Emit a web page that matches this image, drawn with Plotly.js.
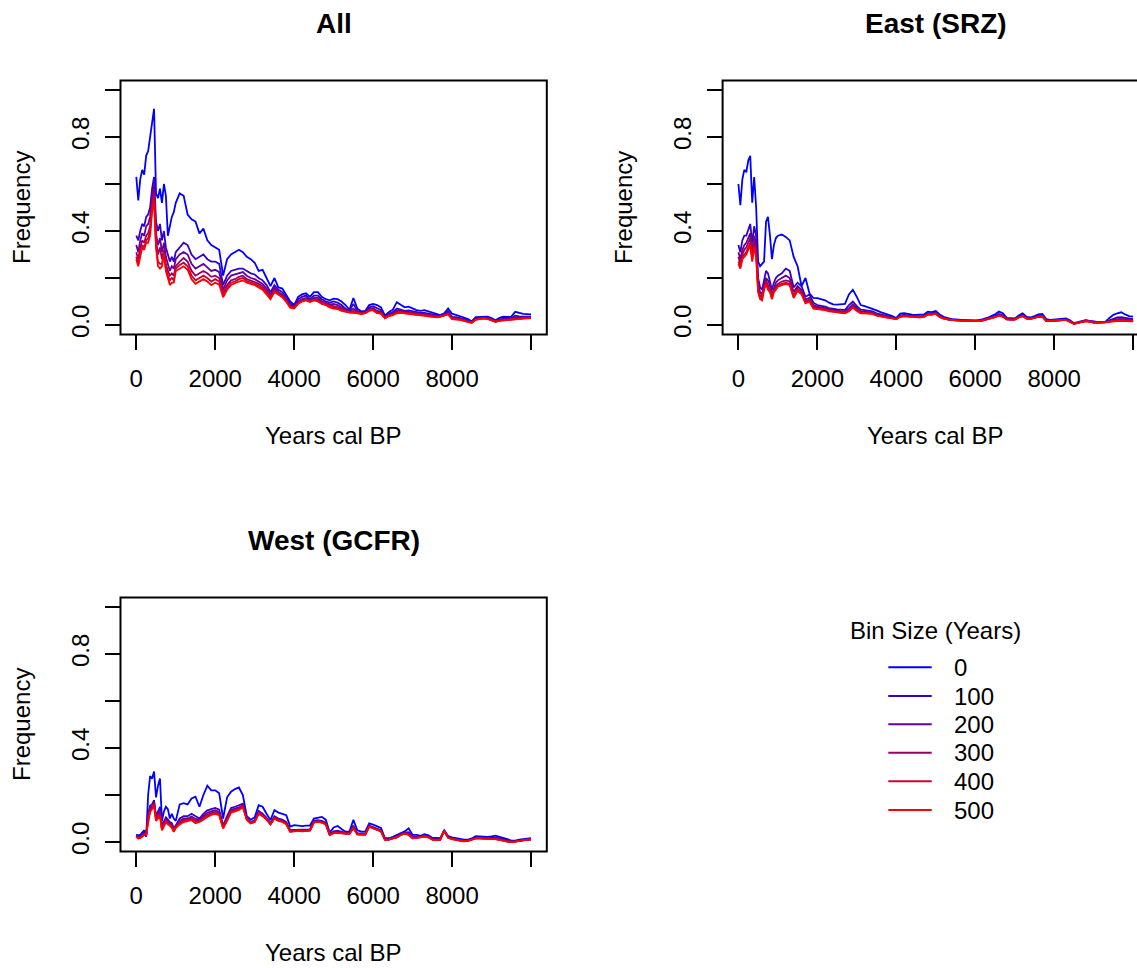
<!DOCTYPE html>
<html>
<head>
<meta charset="utf-8">
<script src="https://cdn.plot.ly/plotly-3.0.1.min.js"></script>
<style>
html,body{margin:0;padding:0;background:#fff;}
#chart{width:1137px;height:968px;}
</style>
</head>
<body>
<div id="chart"></div>
<script>
// ---------------- DATA ----------------
const years = [0,50,100,150,200,250,300,350,400,450,500,550,600,650,700,750,800,850,900,950,1000,
1100,1200,1300,1400,1500,1600,1700,1800,1900,2000,
2100,2200,2300,2400,2500,2600,2700,2800,2900,3000,
3100,3200,3300,3400,3500,3600,3700,3800,3900,4000,
4100,4200,4300,4400,4500,4600,4700,4800,4900,5000,
5100,5200,5300,5400,5500,5600,5700,5800,5900,6000,
6100,6200,6300,6400,6500,6600,6700,6800,6900,7000,
7100,7200,7300,7400,7500,7600,7700,7800,7900,8000,
8100,8200,8300,8400,8500,8600,8700,8800,8900,9000,
9100,9200,9300,9400,9500,9600,9700,9800,9900,10000];

const bins = [0, 100, 200, 300, 400, 500];
const panelTitles = ["All", "East (SRZ)", "West (GCFR)"];
const xTickVals = [0, 2000, 4000, 6000, 8000, 10000];
const xTickText = ["0", "2000", "4000", "6000", "8000", ""];
const yTickVals = [0, 0.2, 0.4, 0.6, 0.8, 1.0];
const yTickText = ["0.0", "", "0.4", "", "0.8", ""];
const xLabel = "Years cal BP";
const yLabel = "Frequency";
const legendTitle = "Bin Size (Years)";

// ---- All ----
const all_0 = [0.63,0.53,0.62,0.66,0.64,0.72,0.74,0.80,0.85,0.92,0.56,0.54,0.58,0.52,0.60,0.55,0.38,0.42,0.46,0.48,0.52,
0.56,0.55,0.47,0.45,0.44,0.39,0.41,0.36,0.34,0.33,
0.32,0.21,0.28,0.30,0.31,0.32,0.31,0.29,0.28,0.265,
0.23,0.235,0.20,0.165,0.20,0.16,0.155,0.13,0.10,0.085,
0.12,0.13,0.135,0.12,0.14,0.14,0.12,0.11,0.105,0.112,
0.11,0.10,0.085,0.065,0.115,0.07,0.058,0.06,0.085,0.09,
0.085,0.075,0.04,0.055,0.065,0.097,0.085,0.075,0.078,0.07,
0.063,0.06,0.063,0.058,0.052,0.048,0.042,0.05,0.07,0.048,
0.043,0.04,0.032,0.025,0.016,0.033,0.035,0.035,0.036,0.03,
0.02,0.03,0.035,0.034,0.036,0.056,0.05,0.047,0.046,0.045];
const all_100 = [0.38,0.36,0.40,0.43,0.42,0.46,0.47,0.50,0.58,0.63,0.44,0.40,0.43,0.36,0.40,0.33,0.30,0.27,0.29,0.27,0.31,
0.33,0.35,0.34,0.30,0.28,0.29,0.30,0.28,0.27,0.27,
0.26,0.17,0.21,0.23,0.235,0.24,0.24,0.23,0.22,0.215,
0.20,0.19,0.17,0.14,0.17,0.15,0.14,0.12,0.09,0.08,
0.11,0.12,0.125,0.11,0.125,0.125,0.11,0.10,0.095,0.10,
0.095,0.085,0.07,0.06,0.09,0.06,0.052,0.055,0.075,0.08,
0.07,0.063,0.035,0.048,0.055,0.07,0.065,0.06,0.062,0.058,
0.053,0.052,0.052,0.048,0.045,0.042,0.04,0.046,0.058,0.035,
0.033,0.03,0.026,0.02,0.013,0.028,0.03,0.031,0.03,0.025,
0.017,0.024,0.028,0.029,0.03,0.04,0.037,0.036,0.036,0.035];
const all_200 = [0.34,0.31,0.36,0.39,0.38,0.42,0.43,0.46,0.55,0.60,0.39,0.34,0.37,0.31,0.35,0.29,0.26,0.23,0.25,0.24,0.28,
0.30,0.31,0.30,0.26,0.24,0.25,0.26,0.245,0.23,0.235,
0.225,0.15,0.19,0.21,0.215,0.22,0.225,0.21,0.20,0.195,
0.185,0.175,0.155,0.13,0.16,0.14,0.13,0.11,0.085,0.078,
0.10,0.11,0.115,0.105,0.115,0.115,0.10,0.095,0.088,0.09,
0.085,0.075,0.065,0.058,0.07,0.056,0.05,0.053,0.068,0.072,
0.06,0.056,0.032,0.044,0.05,0.062,0.06,0.056,0.056,0.052,
0.048,0.047,0.047,0.043,0.04,0.038,0.038,0.043,0.052,0.031,
0.03,0.027,0.023,0.017,0.012,0.025,0.028,0.03,0.028,0.023,
0.016,0.021,0.024,0.026,0.027,0.032,0.031,0.031,0.032,0.032];
const all_300 = [0.31,0.28,0.33,0.36,0.35,0.38,0.39,0.42,0.52,0.57,0.36,0.30,0.33,0.28,0.32,0.26,0.23,0.21,0.22,0.21,0.25,
0.27,0.285,0.27,0.23,0.21,0.22,0.23,0.22,0.205,0.21,
0.20,0.135,0.17,0.19,0.195,0.205,0.21,0.195,0.19,0.183,
0.175,0.165,0.145,0.12,0.15,0.135,0.125,0.105,0.08,0.074,
0.095,0.105,0.11,0.102,0.11,0.108,0.095,0.09,0.082,0.08,
0.076,0.068,0.06,0.055,0.06,0.053,0.049,0.051,0.064,0.067,
0.055,0.052,0.03,0.041,0.046,0.056,0.056,0.053,0.052,0.049,
0.045,0.045,0.044,0.04,0.038,0.036,0.037,0.042,0.048,0.028,
0.028,0.025,0.021,0.015,0.011,0.024,0.027,0.029,0.027,0.022,
0.015,0.02,0.022,0.024,0.025,0.028,0.028,0.029,0.03,0.03];
const all_400 = [0.29,0.26,0.31,0.34,0.33,0.36,0.37,0.40,0.50,0.55,0.34,0.27,0.26,0.26,0.31,0.24,0.21,0.19,0.20,0.19,0.24,
0.255,0.265,0.25,0.21,0.19,0.20,0.21,0.20,0.185,0.195,
0.185,0.125,0.16,0.18,0.185,0.195,0.20,0.187,0.182,0.176,
0.167,0.157,0.137,0.115,0.145,0.132,0.122,0.102,0.077,0.072,
0.092,0.102,0.107,0.10,0.107,0.104,0.092,0.087,0.078,0.074,
0.071,0.064,0.058,0.054,0.055,0.051,0.048,0.05,0.062,0.065,
0.052,0.05,0.029,0.039,0.044,0.053,0.054,0.051,0.05,0.047,
0.043,0.043,0.042,0.038,0.036,0.034,0.036,0.041,0.046,0.026,
0.026,0.023,0.019,0.013,0.01,0.023,0.027,0.028,0.027,0.021,
0.014,0.019,0.021,0.023,0.024,0.026,0.027,0.028,0.029,0.029];
const all_500 = [0.28,0.25,0.29,0.33,0.32,0.35,0.35,0.38,0.48,0.53,0.33,0.25,0.24,0.25,0.30,0.23,0.20,0.17,0.18,0.18,0.23,
0.24,0.25,0.235,0.195,0.175,0.185,0.195,0.185,0.17,0.18,
0.172,0.118,0.15,0.17,0.178,0.185,0.19,0.18,0.175,0.17,
0.16,0.15,0.13,0.11,0.14,0.128,0.118,0.098,0.074,0.07,
0.09,0.10,0.105,0.098,0.105,0.10,0.09,0.085,0.075,0.07,
0.068,0.06,0.056,0.053,0.052,0.05,0.048,0.05,0.06,0.063,
0.05,0.048,0.028,0.038,0.042,0.05,0.052,0.05,0.048,0.045,
0.042,0.042,0.04,0.036,0.035,0.033,0.035,0.04,0.045,0.025,
0.025,0.022,0.018,0.012,0.01,0.022,0.026,0.028,0.026,0.02,
0.014,0.018,0.02,0.022,0.024,0.025,0.026,0.027,0.028,0.028];

// ---- East (SRZ) ----
const east_0 = [0.60,0.51,0.62,0.66,0.65,0.70,0.72,0.52,0.63,0.50,0.27,0.25,0.26,0.27,0.44,0.46,0.38,0.28,0.34,0.37,0.38,
0.385,0.375,0.36,0.29,0.25,0.165,0.20,0.135,0.115,0.114,
0.11,0.105,0.095,0.088,0.087,0.087,0.09,0.13,0.15,0.12,
0.085,0.08,0.075,0.07,0.062,0.055,0.05,0.043,0.038,0.03,
0.048,0.05,0.046,0.044,0.043,0.043,0.045,0.057,0.055,0.06,
0.045,0.035,0.03,0.025,0.024,0.022,0.021,0.02,0.018,0.018,
0.02,0.025,0.03,0.036,0.045,0.057,0.05,0.03,0.028,0.028,
0.04,0.05,0.035,0.032,0.038,0.045,0.047,0.025,0.022,0.024,
0.025,0.027,0.028,0.02,0.008,0.012,0.018,0.021,0.018,0.014,
0.013,0.013,0.014,0.03,0.043,0.05,0.054,0.045,0.038,0.036];
const east_100 = [0.34,0.31,0.36,0.38,0.38,0.41,0.43,0.35,0.42,0.38,0.20,0.16,0.15,0.19,0.23,0.22,0.19,0.15,0.18,0.20,0.21,
0.22,0.24,0.23,0.16,0.18,0.165,0.12,0.13,0.095,0.085,
0.082,0.078,0.072,0.068,0.066,0.065,0.064,0.085,0.10,0.08,
0.065,0.063,0.06,0.058,0.05,0.045,0.041,0.036,0.033,0.028,
0.04,0.043,0.04,0.038,0.037,0.037,0.039,0.05,0.049,0.053,
0.038,0.03,0.026,0.023,0.022,0.02,0.019,0.018,0.017,0.017,
0.018,0.022,0.026,0.031,0.038,0.047,0.041,0.026,0.024,0.025,
0.035,0.043,0.03,0.028,0.033,0.04,0.04,0.02,0.019,0.02,
0.022,0.024,0.024,0.016,0.006,0.01,0.015,0.019,0.016,0.012,
0.011,0.011,0.012,0.02,0.027,0.032,0.033,0.03,0.026,0.025];
const east_200 = [0.31,0.28,0.32,0.34,0.35,0.37,0.39,0.31,0.38,0.34,0.17,0.14,0.13,0.17,0.20,0.19,0.17,0.13,0.16,0.18,0.19,
0.20,0.21,0.20,0.14,0.165,0.15,0.108,0.115,0.085,0.078,
0.075,0.071,0.066,0.062,0.061,0.059,0.058,0.072,0.088,0.072,
0.058,0.057,0.054,0.052,0.045,0.041,0.038,0.033,0.031,0.027,
0.038,0.041,0.038,0.036,0.035,0.035,0.037,0.048,0.047,0.051,
0.036,0.029,0.025,0.022,0.021,0.02,0.019,0.018,0.017,0.017,
0.018,0.021,0.025,0.03,0.036,0.044,0.038,0.025,0.023,0.024,
0.034,0.041,0.029,0.027,0.032,0.038,0.038,0.019,0.018,0.019,
0.021,0.023,0.023,0.015,0.006,0.01,0.015,0.018,0.015,0.011,
0.011,0.011,0.012,0.017,0.022,0.025,0.026,0.024,0.022,0.021];
const east_300 = [0.29,0.26,0.30,0.32,0.33,0.35,0.37,0.29,0.36,0.32,0.155,0.125,0.12,0.16,0.19,0.17,0.155,0.12,0.15,0.165,0.175,
0.185,0.19,0.185,0.125,0.155,0.14,0.10,0.108,0.078,0.073,
0.07,0.067,0.062,0.059,0.058,0.055,0.054,0.065,0.08,0.066,
0.054,0.053,0.051,0.049,0.042,0.038,0.036,0.031,0.029,0.026,
0.036,0.039,0.037,0.035,0.034,0.034,0.036,0.046,0.045,0.049,
0.035,0.028,0.024,0.021,0.02,0.019,0.018,0.017,0.016,0.016,
0.017,0.02,0.024,0.029,0.034,0.042,0.036,0.024,0.022,0.023,
0.033,0.039,0.028,0.026,0.031,0.036,0.037,0.018,0.017,0.018,
0.02,0.022,0.022,0.014,0.005,0.009,0.014,0.017,0.014,0.01,
0.01,0.01,0.011,0.015,0.019,0.021,0.021,0.02,0.019,0.018];
const east_400 = [0.27,0.25,0.29,0.30,0.31,0.33,0.35,0.28,0.34,0.30,0.145,0.115,0.11,0.155,0.18,0.16,0.145,0.115,0.145,0.155,0.168,
0.175,0.18,0.175,0.12,0.15,0.135,0.095,0.103,0.073,0.07,
0.068,0.065,0.06,0.057,0.056,0.053,0.052,0.06,0.076,0.062,
0.052,0.051,0.049,0.048,0.041,0.037,0.035,0.03,0.028,0.025,
0.035,0.038,0.036,0.034,0.033,0.033,0.035,0.045,0.044,0.048,
0.034,0.027,0.024,0.021,0.02,0.019,0.018,0.017,0.016,0.016,
0.017,0.02,0.024,0.028,0.033,0.041,0.035,0.024,0.022,0.023,
0.032,0.038,0.027,0.026,0.03,0.035,0.036,0.018,0.017,0.018,
0.02,0.022,0.022,0.014,0.005,0.009,0.014,0.017,0.014,0.01,
0.01,0.01,0.011,0.014,0.017,0.019,0.019,0.018,0.017,0.017];
const east_500 = [0.26,0.24,0.28,0.29,0.30,0.32,0.34,0.27,0.33,0.29,0.14,0.11,0.105,0.15,0.175,0.15,0.14,0.11,0.14,0.15,0.163,
0.17,0.175,0.17,0.115,0.145,0.13,0.092,0.10,0.07,0.068,
0.066,0.063,0.058,0.056,0.055,0.052,0.05,0.058,0.074,0.06,
0.05,0.05,0.048,0.047,0.04,0.036,0.034,0.03,0.028,0.025,
0.035,0.038,0.036,0.034,0.033,0.033,0.035,0.045,0.044,0.048,
0.034,0.027,0.024,0.021,0.02,0.019,0.018,0.017,0.016,0.016,
0.017,0.02,0.024,0.028,0.033,0.04,0.035,0.024,0.022,0.023,
0.032,0.038,0.027,0.026,0.03,0.035,0.036,0.018,0.017,0.018,
0.02,0.022,0.022,0.014,0.005,0.009,0.014,0.017,0.014,0.01,
0.01,0.01,0.011,0.013,0.016,0.018,0.018,0.017,0.016,0.016];

// ---- West (GCFR) ----
const west_0 = [0.032,0.028,0.03,0.04,0.05,0.022,0.20,0.28,0.27,0.30,0.19,0.24,0.27,0.09,0.13,0.15,0.14,0.10,0.12,0.10,0.09,
0.16,0.165,0.16,0.185,0.193,0.15,0.20,0.24,0.22,0.22,
0.207,0.10,0.19,0.214,0.225,0.232,0.20,0.11,0.095,0.105,
0.157,0.15,0.12,0.093,0.136,0.125,0.12,0.114,0.066,0.072,
0.07,0.068,0.07,0.07,0.10,0.105,0.107,0.095,0.04,0.062,
0.068,0.055,0.044,0.044,0.094,0.05,0.044,0.044,0.079,0.074,
0.068,0.06,0.016,0.016,0.022,0.029,0.036,0.045,0.058,0.03,
0.03,0.026,0.033,0.028,0.018,0.016,0.016,0.05,0.025,0.02,
0.016,0.012,0.01,0.01,0.015,0.025,0.024,0.022,0.022,0.024,
0.027,0.022,0.018,0.012,0.006,0.006,0.01,0.012,0.015,0.016];
const west_100 = [0.03,0.022,0.022,0.032,0.04,0.026,0.12,0.155,0.16,0.178,0.11,0.13,0.15,0.07,0.09,0.105,0.095,0.085,0.08,0.06,0.07,
0.10,0.11,0.11,0.12,0.11,0.10,0.12,0.135,0.14,0.145,
0.138,0.07,0.11,0.145,0.15,0.155,0.163,0.10,0.085,0.092,
0.132,0.12,0.103,0.08,0.11,0.10,0.095,0.085,0.05,0.052,
0.053,0.052,0.052,0.054,0.09,0.093,0.09,0.082,0.034,0.045,
0.048,0.042,0.039,0.039,0.07,0.038,0.036,0.036,0.07,0.064,
0.056,0.05,0.012,0.012,0.018,0.024,0.033,0.04,0.042,0.022,
0.023,0.022,0.028,0.023,0.013,0.011,0.012,0.048,0.021,0.015,
0.011,0.008,0.006,0.007,0.012,0.019,0.019,0.017,0.016,0.017,
0.018,0.015,0.011,0.006,0.003,0.004,0.007,0.01,0.012,0.013];
const west_200 = [0.027,0.02,0.02,0.03,0.036,0.028,0.11,0.145,0.152,0.17,0.10,0.12,0.135,0.062,0.082,0.097,0.087,0.08,0.072,0.054,0.066,
0.09,0.10,0.10,0.108,0.098,0.095,0.11,0.124,0.13,0.135,
0.128,0.066,0.102,0.137,0.142,0.147,0.157,0.098,0.083,0.089,
0.127,0.116,0.10,0.078,0.106,0.096,0.091,0.081,0.047,0.049,
0.05,0.049,0.049,0.051,0.087,0.09,0.087,0.079,0.032,0.042,
0.044,0.04,0.037,0.037,0.065,0.035,0.034,0.034,0.068,0.061,
0.053,0.048,0.011,0.011,0.017,0.022,0.032,0.038,0.037,0.019,
0.021,0.021,0.026,0.022,0.012,0.01,0.011,0.048,0.02,0.014,
0.01,0.007,0.005,0.006,0.011,0.017,0.017,0.015,0.014,0.015,
0.015,0.012,0.008,0.004,0.002,0.003,0.006,0.009,0.011,0.012];
const west_300 = [0.025,0.018,0.018,0.028,0.033,0.029,0.10,0.138,0.147,0.165,0.096,0.11,0.122,0.057,0.077,0.092,0.082,0.076,0.066,0.049,0.063,
0.083,0.094,0.095,0.10,0.09,0.09,0.103,0.116,0.123,0.128,
0.121,0.062,0.096,0.131,0.136,0.142,0.153,0.097,0.081,0.087,
0.124,0.113,0.098,0.077,0.103,0.093,0.088,0.078,0.045,0.047,
0.048,0.047,0.047,0.05,0.085,0.088,0.084,0.077,0.031,0.04,
0.041,0.038,0.036,0.036,0.062,0.033,0.032,0.032,0.066,0.06,
0.051,0.046,0.01,0.01,0.016,0.021,0.031,0.037,0.033,0.017,
0.019,0.02,0.025,0.021,0.011,0.009,0.01,0.047,0.019,0.013,
0.009,0.006,0.004,0.005,0.01,0.016,0.016,0.014,0.013,0.013,
0.013,0.011,0.007,0.003,0.001,0.002,0.005,0.008,0.01,0.011];
const west_400 = [0.023,0.016,0.017,0.026,0.031,0.03,0.095,0.132,0.143,0.16,0.093,0.105,0.115,0.053,0.073,0.088,0.078,0.073,0.063,0.046,0.061,
0.079,0.089,0.091,0.096,0.085,0.087,0.099,0.111,0.119,0.124,
0.117,0.06,0.093,0.128,0.133,0.139,0.15,0.096,0.08,0.086,
0.122,0.111,0.096,0.076,0.101,0.091,0.087,0.076,0.044,0.046,
0.047,0.046,0.046,0.049,0.084,0.087,0.083,0.076,0.03,0.039,
0.039,0.037,0.035,0.035,0.06,0.032,0.031,0.031,0.065,0.059,
0.05,0.045,0.009,0.01,0.015,0.02,0.03,0.036,0.031,0.016,
0.018,0.02,0.024,0.02,0.01,0.008,0.01,0.047,0.018,0.012,
0.008,0.005,0.003,0.005,0.01,0.015,0.015,0.013,0.012,0.012,
0.012,0.01,0.006,0.002,0.0,0.002,0.005,0.008,0.01,0.01];
const west_500 = [0.022,0.015,0.016,0.025,0.03,0.03,0.09,0.128,0.14,0.157,0.09,0.10,0.11,0.05,0.07,0.085,0.075,0.07,0.06,0.043,0.06,
0.075,0.085,0.088,0.093,0.08,0.085,0.095,0.107,0.115,0.12,
0.114,0.058,0.09,0.125,0.13,0.136,0.148,0.095,0.079,0.085,
0.12,0.11,0.095,0.075,0.10,0.09,0.086,0.075,0.043,0.045,
0.047,0.045,0.045,0.048,0.083,0.086,0.082,0.075,0.03,0.038,
0.038,0.036,0.035,0.035,0.058,0.032,0.031,0.031,0.065,0.058,
0.05,0.045,0.009,0.01,0.015,0.02,0.03,0.036,0.03,0.016,
0.018,0.02,0.024,0.02,0.01,0.008,0.01,0.047,0.018,0.012,
0.008,0.005,0.003,0.005,0.01,0.015,0.015,0.013,0.012,0.012,
0.012,0.01,0.006,0.002,0.0,0.002,0.005,0.008,0.01,0.01];

// ---------------- STYLE / LAYOUT ----------------
const lineColors = ['#0000FF','#3300CC','#660099','#990066','#CC0033','#FF0000'];
const W = 1137, H = 968;
const FONT = 'Liberation Sans, Arial, Helvetica, sans-serif';
const fx = px => px / W;
const fy = py => 1 - py / H;

const panelSeries = [
  [all_0, all_100, all_200, all_300, all_400, all_500],
  [east_0, east_100, east_200, east_300, east_400, east_500],
  [west_0, west_100, west_200, west_300, west_400, west_500]
];
// pixel boxes: [left, right(visible), boxRight, top, bottom, xmax]
const boxes = [
  {l:120.5, r:546.8, br:546.8, t:80.6, b:334.4, xr:[-400,10400]},
  {l:722.6, r:1137,  br:1148.9, t:80.6, b:334.4, xr:[-400,10098.6]},
  {l:120.5, r:546.8, br:546.8, t:597.6, b:851.4, xr:[-400,10400]}
];
const axIds = ['', '2', '3'];

const traces = [];
panelSeries.forEach((series, p) => {
  series.forEach((ys, i) => {
    traces.push({
      x: years, y: ys, type: 'scatter', mode: 'lines',
      name: String(bins[i]),
      xaxis: 'x' + axIds[p], yaxis: 'y' + axIds[p],
      line: {color: lineColors[i], width: 1.8},
      showlegend: false, hoverinfo: 'skip'
    });
  });
});

const layout = {
  width: W, height: H,
  margin: {l:0, r:0, t:0, b:0},
  paper_bgcolor: '#fff', plot_bgcolor: '#fff',
  font: {family: FONT, size: 24, color: '#000'},
  showlegend: false,
  shapes: [], annotations: []
};

boxes.forEach((b, p) => {
  const xa = {
    domain: [fx(b.l), fx(b.r)], range: b.xr, anchor: 'y' + axIds[p],
    tickmode: 'array', tickvals: xTickVals, ticktext: xTickText,
    ticks: 'outside', ticklen: 15, tickwidth: 2, tickcolor: '#000',
    showline: false, showgrid: false, zeroline: false,
    tickfont: {family: FONT, size: 24, color: '#000'},
    ticklabelstandoff: 8, fixedrange: true
  };
  const ya = {
    domain: [fy(b.b), fy(b.t)], range: [-0.04, 1.04], anchor: 'x' + axIds[p],
    tickmode: 'array', tickvals: yTickVals, ticktext: yTickText,
    ticks: 'outside', ticklen: 15, tickwidth: 2, tickcolor: '#000',
    tickangle: -90,
    showline: false, showgrid: false, zeroline: false,
    tickfont: {family: FONT, size: 24, color: '#000'},
    ticklabelstandoff: 6, fixedrange: true
  };
  layout['xaxis' + axIds[p]] = xa;
  layout['yaxis' + axIds[p]] = ya;

  layout.shapes.push({
    type: 'rect', xref: 'paper', yref: 'paper',
    x0: fx(b.l), x1: fx(b.br), y0: fy(b.b), y1: fy(b.t),
    line: {color: '#000', width: 2}, fillcolor: 'rgba(0,0,0,0)', layer: 'above'
  });

  const cx = (b.l + b.br) / 2;
  layout.annotations.push({
    text: '<b>' + panelTitles[p] + '</b>', xref: 'paper', yref: 'paper',
    x: fx(cx), y: fy(b.t - 57), xanchor: 'center', yanchor: 'middle',
    showarrow: false, font: {family: FONT, size: 28, color: '#000'}
  });
  layout.annotations.push({
    text: xLabel, xref: 'paper', yref: 'paper',
    x: fx(cx), y: fy(b.b + 101), xanchor: 'center', yanchor: 'middle',
    showarrow: false, font: {family: FONT, size: 24, color: '#000'}
  });
  layout.annotations.push({
    text: yLabel, xref: 'paper', yref: 'paper', textangle: -90,
    x: fx(b.l - 99), y: fy((b.t + b.b) / 2), xanchor: 'center', yanchor: 'middle',
    showarrow: false, font: {family: FONT, size: 24, color: '#000'}
  });
});

// Legend (panel 4 area)
layout.annotations.push({
  text: legendTitle, xref: 'paper', yref: 'paper',
  x: fx(935.8), y: fy(630), xanchor: 'center', yanchor: 'middle',
  showarrow: false, font: {family: FONT, size: 24, color: '#000'}
});
const legRowY = [667.3, 696, 724.3, 752.7, 781.3, 810];
bins.forEach((bv, i) => {
  layout.shapes.push({
    type: 'line', xref: 'paper', yref: 'paper',
    x0: fx(888.3), x1: fx(931.7), y0: fy(legRowY[i]), y1: fy(legRowY[i]),
    line: {color: lineColors[i], width: 2}
  });
  layout.annotations.push({
    text: String(bv), xref: 'paper', yref: 'paper',
    x: fx(952), y: fy(legRowY[i]), xanchor: 'left', yanchor: 'middle',
    showarrow: false, font: {family: FONT, size: 24, color: '#000'}
  });
});

Plotly.newPlot('chart', traces, layout, {displayModeBar: false, staticPlot: true});
</script>
</body>
</html>
